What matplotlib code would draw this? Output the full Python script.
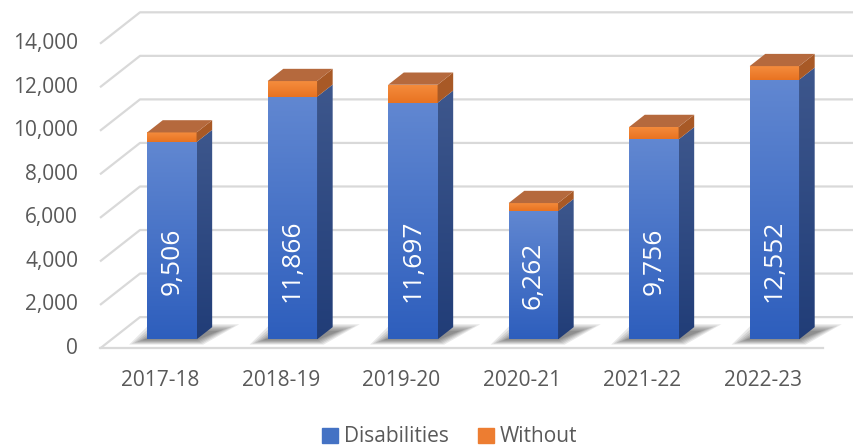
import numpy as np
import matplotlib.pyplot as plt
from matplotlib.patches import Polygon, Patch

plt.rcParams['font.family'] = ['Open Sans', 'DejaVu Sans']

years = ['2017-18', '2018-19', '2019-20', '2020-21', '2021-22', '2022-23']
disabilities = [9063, 11144, 10868, 5893, 9187, 11925]
without = [443, 722, 829, 369, 569, 627]
totals = [d + w for d, w in zip(disabilities, without)]
yticks = list(range(0, 14001, 2000))

fig = plt.figure(figsize=(8.54, 4.47), dpi=100)
ax = fig.add_axes((0, 0, 1, 1))

# oblique "3d": offset of the back wall in data units
DX, DY = 0.332, 1442
d0, d1 = 0.29, 0.68          # bar depth range (0 = front, 1 = back wall)
bw = 0.41
grid_c = '#d9d9d9'
text_c = '#595959'

# walls / gridlines
for v in yticks:
    ax.plot([-0.5, -0.5 + DX, 6.2], [v, v + DY, v + DY], color=grid_c, lw=1.6,
            zorder=1, solid_capstyle='butt')
    ax.text(-0.6826, v, f'{v:,}', ha='right', va='center', fontsize=15, color=text_c)
ax.plot([-0.5, 5.5], [0, 0], color=grid_c, lw=1.6, zorder=1)

for i, yr in enumerate(years):
    ax.text(i, -1493, yr, ha='center', va='center', fontsize=15, color=text_c)


def grad_fill(poly, c_top, c_bot, y0, y1, x0, x1, z):
    g = np.linspace(0, 1, 64)[:, None, None]
    img = np.array(c_top)[None, None, :] * (1 - g) + np.array(c_bot)[None, None, :] * g
    im = ax.imshow(img, extent=(x0, x1, y0, y1), origin='upper', aspect='auto',
                   zorder=z, interpolation='bilinear')
    im.set_clip_path(poly)


blue_top, blue_bot = (0.38, 0.53, 0.82), (0.18, 0.37, 0.74)
bside_top, bside_bot = (0.24, 0.34, 0.55), (0.13, 0.24, 0.47)
or_top, or_bot = (0.96, 0.55, 0.24), (0.91, 0.45, 0.13)
oside = (0.66, 0.35, 0.15)
otop = (0.71, 0.41, 0.24)

ddx, ddy = (d1 - d0) * DX, (d1 - d0) * DY
base = d0 * DY
xs = np.arange(len(years)) + d0 * DX

# soft shadows on the floor
for i, x in enumerate(xs):
    xl, xr = x - bw / 2, x + bw / 2
    for k in range(6):
        e = 0.022 * k
        pts = [(xl - 0.04 - e, base - 40 - 40 * k), (xr + e * 0.5, base - 40 - 40 * k),
               (xr + ddx + 0.06 + e * 1.5, base + ddy * 0.7 + 60 * k),
               (xl + ddx - e, base + ddy * 0.7 + 60 * k)]
        ax.add_patch(Polygon(pts, closed=True, facecolor='black', edgecolor='none',
                             alpha=0.09, zorder=2))

b1 = ax.bar(xs, disabilities, width=bw, bottom=base, color='none', zorder=3)
b2 = ax.bar(xs, without, width=bw, bottom=[base + d for d in disabilities],
            color='none', zorder=3)

for i, x in enumerate(xs):
    xl, xr = x - bw / 2, x + bw / 2
    yb = base
    ym = base + disabilities[i]
    yt = ym + without[i]
    # front faces
    grad_fill(b1[i], blue_top, blue_bot, yb, ym, xl, xr, 4)
    grad_fill(b2[i], or_top, or_bot, ym, yt, xl, xr, 4)
    # side faces
    side_b = Polygon([(xr, yb), (xr + ddx, yb + ddy), (xr + ddx, ym + ddy), (xr, ym)],
                     closed=True, facecolor='none', edgecolor='none')
    ax.add_patch(side_b)
    grad_fill(side_b, bside_top, bside_bot, yb, ym + ddy, xr, xr + ddx, 4)
    ax.add_patch(Polygon([(xr, ym), (xr + ddx, ym + ddy), (xr + ddx, yt + ddy), (xr, yt)],
                         closed=True, facecolor=oside, edgecolor='none', zorder=4))
    # top face
    ax.add_patch(Polygon([(xl, yt), (xr, yt), (xr + ddx, yt + ddy), (xl + ddx, yt + ddy)],
                         closed=True, facecolor=otop, edgecolor='none', zorder=4))
    ax.text(x, base + min(disabilities[i] / 2, 3600), f'{totals[i]:,}', rotation=90,
            rotation_mode='anchor', ha='center', va='center', color='white',
            fontsize=19, zorder=5)

ax.set_xlim(-1.3299, 5.757)
ax.set_ylim(-4525, 16008)
ax.axis('off')

handles = [Patch(color='#4472c4'), Patch(color='#ed7d31')]
fig.legend(handles, ['Disabilities', 'Without'], loc='center',
           bbox_to_anchor=(450 / 854, 1 - 437 / 447), ncol=2, frameon=False,
           fontsize=15, handlelength=0.75, handleheight=0.75, handletextpad=0.3,
           columnspacing=1.4, labelcolor=text_c, borderpad=0)

fig.savefig('out.png', dpi=100)
